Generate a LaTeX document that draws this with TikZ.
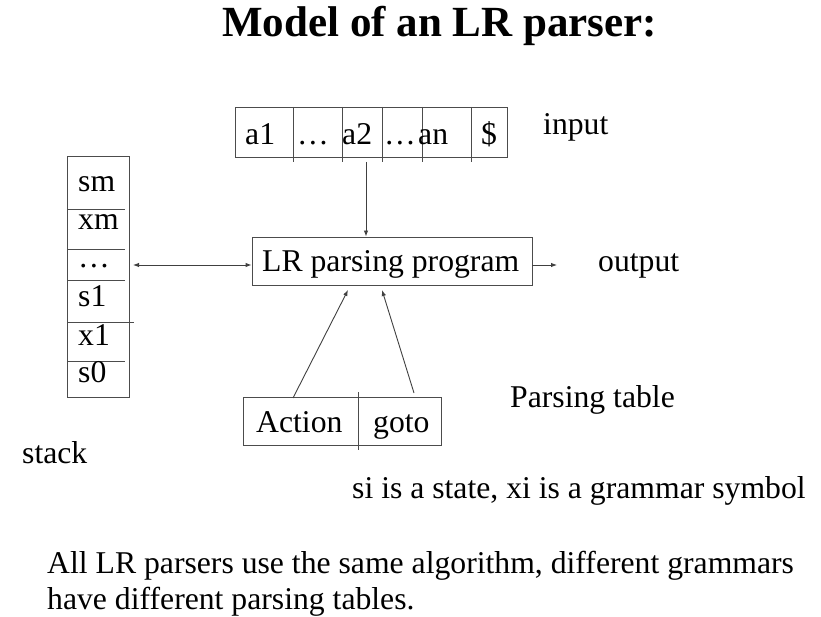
\documentclass[tikz,border=0pt]{standalone}
\usepackage{fontspec}
\setmainfont{Liberation Serif}
\usetikzlibrary{arrows.meta}
\tikzset{
  body/.style={font=\fontsize{31.7}{36}\selectfont, anchor=base west, inner sep=0pt},
  titlefont/.style={font=\fontsize{43}{50}\selectfont\bfseries, anchor=base west, inner sep=0pt},
  frame/.style={draw=black!70, line width=0.9pt, inner sep=0pt},
  rule/.style={draw=black!70, line width=0.9pt},
  conn/.style={draw=black!75, line width=0.9pt, -{Latex[length=6pt,width=4.5pt]}},
}
\begin{document}
\begin{tikzpicture}[x=1pt,y=-1pt]
\useasboundingbox (0,0) rectangle (821,617);

% title
\node[titlefont] (title) at (222,37) {Model of an LR parser:};

% input tape
\node[frame, minimum width=272pt, minimum height=50pt] (tape) at (371,132) {};
\foreach \x [count=\i] in {293,342,382,422,471}
  \draw[rule] (\x,107) -- (\x,162);
\node[body] (a1) at (245,145) {a1};
\node[body] (d1) at (297,145) {\dots};
\node[body] (a2) at (342,145) {a2};
\node[body] (d2) at (384,145) {\dots};
\node[body] (an) at (418,145) {an};
\node[body] (end) at (481,145) {\$};
\node[body] (inlabel) at (543,135) {input};

% parsing program
\node[frame, minimum width=280pt, minimum height=48pt] (prog) at (392,261) {};
\node[body] (progtext) at (262,272) {LR parsing program};
\node[body] (outlabel) at (598,272) {output};
\coordinate (outend) at (557,265);

% stack
\node[frame, minimum width=62pt, minimum height=241pt] (stack) at (98,276.5) {};
\draw[rule] (67,209) -- (125,209);
\draw[rule] (67,249) -- (125,249);
\draw[rule] (67,280) -- (125,280);
\draw[rule] (67,322) -- (134,322);
\draw[rule] (67,361) -- (125,361);
\node[body] (sm) at (78,192) {sm};
\node[body] (xm) at (78,230) {xm};
\node[body] (sdots) at (78,268) {\dots};
\node[body] (s1) at (78,307) {s1};
\node[body] (x1) at (78,345) {x1};
\node[body] (s0) at (78,382) {s0};
\node[body] (stacklabel) at (22,463) {stack};
\coordinate (stackport) at (133,265);

% parsing table
\node[frame, minimum width=198pt, minimum height=48pt] (table) at (342,421) {};
\draw[rule] (358,392) -- (358,450);
\node[body] (action) at (256,432) {Action};
\node[body] (goto) at (373,432) {goto};
\node[body] (tablelabel) at (510,407) {Parsing table};

% connectors
\coordinate (tapeout) at (366,162);
\coordinate (actfoot) at (293,398);
\coordinate (acthead) at (348,290);
\coordinate (gotofoot) at (414,393);
\coordinate (gotohead) at (382,290);
\draw[conn] (tapeout) -- (tapeout |- prog.north);
\draw[conn, {Latex[length=6pt,width=4.5pt]}-{Latex[length=6pt,width=4.5pt]}] (stackport) -- (prog.west |- stackport);
\draw[conn] (prog.east |- outend) -- (outend);
\draw[conn] (actfoot) -- (acthead);
\draw[conn] (gotofoot) -- (gotohead);

% notes
\node[body] (note) at (352,498) {si is a state, xi is a grammar symbol};
\node[body] (summary1) at (47,573) {All LR parsers use the same algorithm, different grammars};
\node[body] (summary2) at (47,609) {have different parsing tables.};
\end{tikzpicture}
\end{document}
